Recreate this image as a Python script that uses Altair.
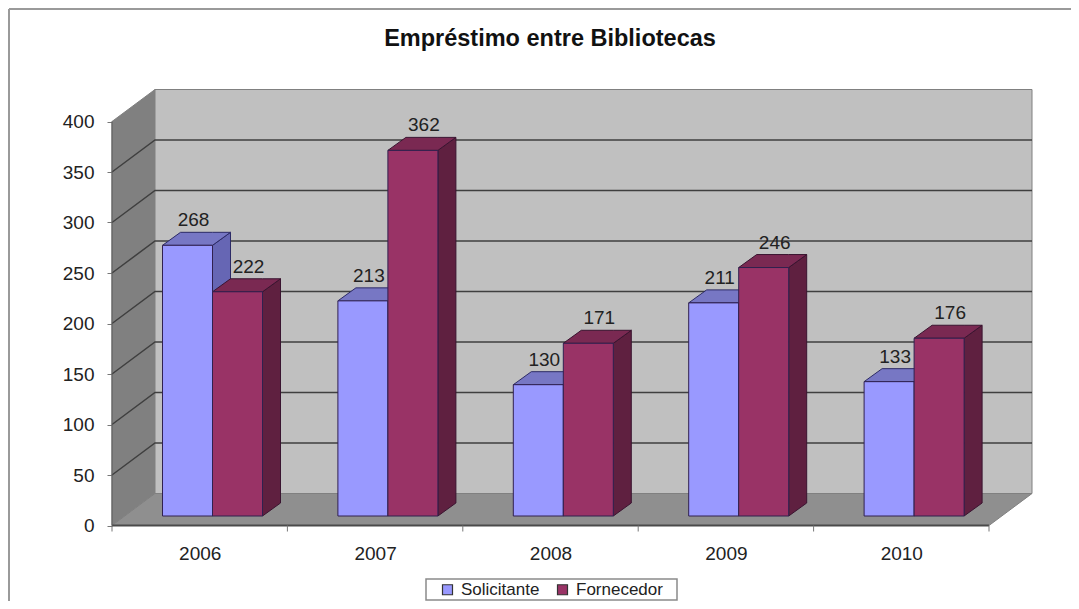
import altair as alt
import pandas as pd

title_text = "Empréstimo entre Bibliotecas"
years = ["2006", "2007", "2008", "2009", "2010"]
solicitante = [268, 213, 130, 211, 133]
fornecedor = [222, 362, 171, 246, 176]
series_names = ["Solicitante", "Fornecedor"]
y_ticks = [0, 50, 100, 150, 200, 250, 300, 350, 400]
grid_levels = [50, 100, 150, 200, 250, 300, 350]

FONT = "Liberation Sans"
TXT = "#222222"
PX_X = 175.4
PX_Y = 1.01
W, H = 920, 437.5
x_max = W / PX_X
y_max = H / PX_Y
wall_dx, wall_dy = 43 / PX_X, 32 / PX_Y
bar_dx, bar_dy = 18 / PX_X, 13 / PX_Y
bar_w = 50 / PX_X
bar_left = 50.5 / PX_X
base = 9.5 / PX_Y
n = len(years)

FRONT = ["#9999ff", "#993366"]
SIDE = ["#6666b4", "#5f2040"]
TOP = ["#7777c4", "#7a2952"]
EDGE = ["#2c2a66", "#3a1430"]


def poly(rows, name, fill):
    return [dict(x=a, y=b, y2=c, poly=name, fill=fill) for a, b, c in rows]


faces = [[], []]
fronts, labels = [], []
for i in range(n):
    for s, vals in enumerate([solicitante, fornecedor]):
        v = vals[i]
        x0 = i + bar_left + s * bar_w
        x1 = x0 + bar_w
        t = v + base
        faces[s] += poly([(x1, t, base), (x1 + bar_dx, t + bar_dy, base + bar_dy)],
                         f"side{s}{i}", SIDE[s])
        faces[s] += poly([(x0, t, t), (x0 + bar_dx, t + bar_dy, t), (x1, t + bar_dy, t),
                          (x1 + bar_dx, t + bar_dy, t + bar_dy)],
                         f"top{s}{i}", TOP[s])
        fronts.append(dict(x=x0, x2=x1, y=t, y2=base, serie=series_names[s]))
        nudge = (6 if s == 0 else 11) / PX_X
        labels.append(dict(x=x0 + bar_w / 2 + nudge, y=t + bar_dy, label=str(v)))

xs = alt.Scale(domain=[0, x_max], nice=False, zero=False)
ys = alt.Scale(domain=[0, y_max], nice=False, zero=False)

x_axis = alt.Axis(
    values=[i + 0.5 for i in range(n)],
    labelExpr=f"{years}[floor(datum.value)]",
    title=None, domain=False, ticks=False, grid=False, labelPadding=19,
    labelFont=FONT, labelFontSize=19, labelColor=TXT, labelAngle=0,
)
y_axis = alt.Axis(
    values=y_ticks, title=None, domain=False, grid=False, tickSize=5, tickColor="#777777",
    labelPadding=13, labelFont=FONT, labelFontSize=19, labelColor=TXT,
)
X = alt.X("x:Q", scale=xs, axis=x_axis)
Y = alt.Y("y:Q", scale=ys, axis=y_axis)
FILL = alt.Color("fill:N", scale=None, legend=None)

walls = pd.DataFrame(
    poly([(0, 400, 0), (wall_dx, 400 + wall_dy, wall_dy)], "left", "#808080")
    + poly([(wall_dx, 400 + wall_dy, wall_dy), (x_max, 400 + wall_dy, wall_dy)], "back", "#c0c0c0")
    + poly([(0, 0, 0), (wall_dx, wall_dy, 0), (n, wall_dy, 0), (n + wall_dx, wall_dy, wall_dy)],
           "floor", "#8f8f8f")
)
wall_layer = alt.Chart(walls).mark_area(stroke="#808080", strokeWidth=1, interpolate="linear").encode(
    x=X, y=Y, y2="y2:Q", fill=FILL, detail="poly:N",
)

grid_rows = []
for g in grid_levels:
    grid_rows += [dict(x=0, y=g, k=g), dict(x=wall_dx, y=g + wall_dy, k=g), dict(x=x_max, y=g + wall_dy, k=g)]
grid_layer = alt.Chart(pd.DataFrame(grid_rows)).mark_line(color="#3f3f3f", strokeWidth=1.5).encode(
    x=X, y=Y, detail="k:N"
)

axis_line = alt.Chart(pd.DataFrame({"x": [0, n], "y": [0, 0]})).mark_line(
    color="#4a4a4a", strokeWidth=2).encode(x=X, y=Y)
left_line = alt.Chart(pd.DataFrame({"x": [0, 0], "y": [0, 400]})).mark_line(
    color="#5a5a5a", strokeWidth=1).encode(x=X, y=Y)
x_ticks = alt.Chart(pd.DataFrame({"x": list(range(n + 1))})).mark_rule(
    color="#777777", strokeWidth=1).encode(x=X, y=alt.value(H), y2=alt.value(H + 6))

face_layers = [
    alt.Chart(pd.DataFrame(faces[s])).mark_area(
        stroke=EDGE[s], strokeWidth=1, interpolate="linear"
    ).encode(x=X, y=Y, y2="y2:Q", fill=FILL, detail="poly:N")
    for s in range(2)
]

# outer frame and legend box (page furniture)
top_border = alt.Chart(pd.DataFrame({"a": [0]})).mark_rule(color="#9a9a9a", strokeWidth=2).encode(
    x=alt.value(-103), x2=alt.value(960), y=alt.value(-79))
left_border = alt.Chart(pd.DataFrame({"a": [0]})).mark_rule(color="#9a9a9a", strokeWidth=2).encode(
    x=alt.value(-103), y=alt.value(-79), y2=alt.value(514))
legend_box = alt.Chart(pd.DataFrame({"a": [0]})).mark_rect(
    fill="white", stroke="#8a8a8a", strokeWidth=1.5
).encode(x=alt.value(314), x2=alt.value(565), y=alt.value(491), y2=alt.value(512))

bars = alt.Chart(pd.DataFrame(fronts)).mark_bar(strokeWidth=1, stroke="#30204f").encode(
    x=X, x2="x2:Q", y=Y, y2="y2:Q",
    color=alt.Color(
        "serie:N",
        scale=alt.Scale(domain=series_names, range=FRONT),
        legend=alt.Legend(
            orient="none", legendX=327, legendY=493, direction="horizontal", columns=2,
            title=None, symbolType="square", symbolSize=100, symbolStrokeColor="#333333",
            symbolStrokeWidth=1.2, labelFont=FONT, labelFontSize=17, labelColor=TXT,
            columnPadding=14, labelOffset=5, padding=0, zindex=1,
        ),
    ),
)

text = alt.Chart(pd.DataFrame(labels)).mark_text(
    font=FONT, fontSize=19, color=TXT, baseline="alphabetic", dy=-6
).encode(x=X, y=Y, text="label:N")

chart = alt.layer(
    wall_layer, grid_layer, axis_line, left_line, x_ticks, *face_layers, bars, text,
    top_border, left_border, legend_box,
).properties(
    width=W, height=H,
    padding={"left": 104, "top": 80, "right": 39, "bottom": 75.5},
    autosize=alt.AutoSizeParams(type="none"),
    background="white",
    title=alt.TitleParams(
        title_text, font=FONT, fontSize=23.5, fontWeight="bold", color="#111111",
        anchor="middle", frame="group", dx=-22, dy=42, offset=0,
    ),
).configure_view(stroke=None)

chart.save("out.html", embed_options={"renderer": "svg", "actions": False})
